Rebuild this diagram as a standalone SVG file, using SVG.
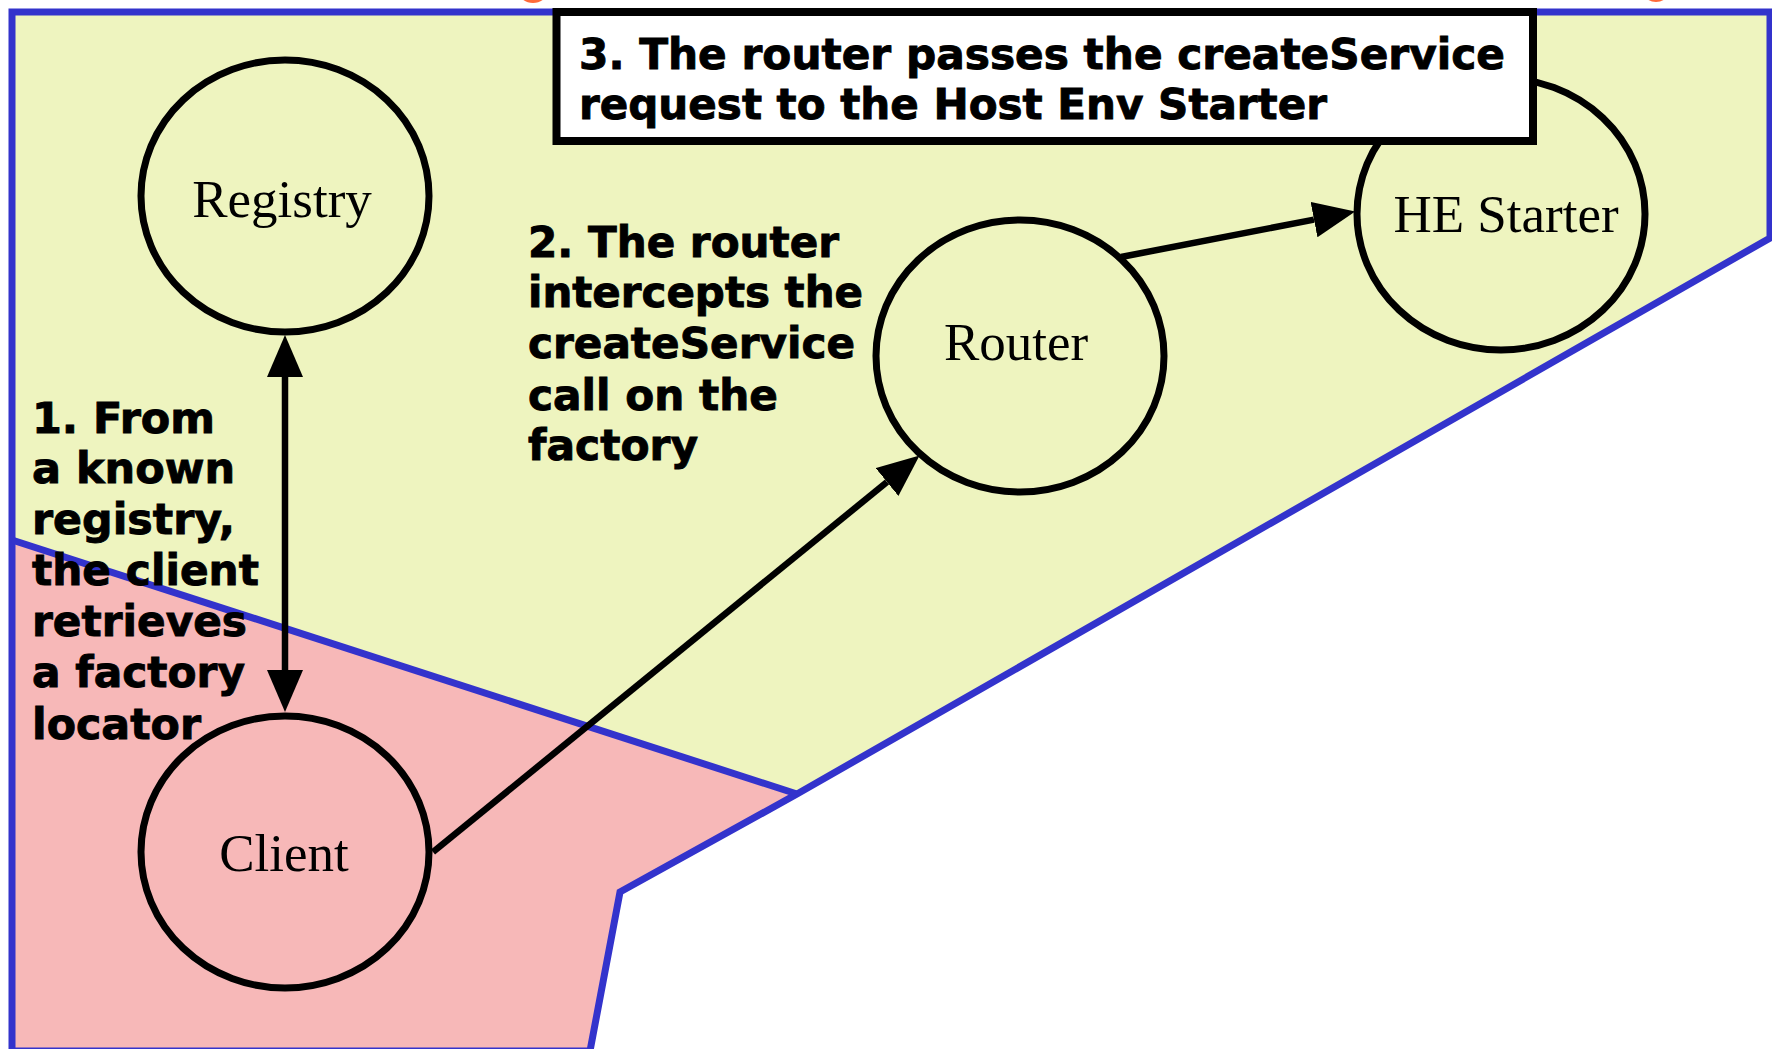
<svg xmlns="http://www.w3.org/2000/svg" width="1772" height="1049" viewBox="0 0 1772 1049">
<style>
.border{fill:none;stroke:#3333cc;stroke-width:7;stroke-linejoin:miter}
.node{fill:none;stroke:#000;stroke-width:7}
.lbl{font-family:"Liberation Serif","Times New Roman",serif;font-size:53px;fill:#000;text-anchor:middle}
.note{font-family:"DejaVu Sans",Verdana,sans-serif;font-weight:bold;font-size:43px;fill:#000;stroke:#000;stroke-width:0.9}
.conn{fill:none;stroke:#000;stroke-width:6.5}
</style>
<defs>
<marker id="ah" viewBox="0 -18 42 36" refX="0" refY="0" markerWidth="42" markerHeight="36" markerUnits="userSpaceOnUse" orient="auto-start-reverse">
<path d="M0,-18 L42,0 L0,18 z" fill="#000"/>
</marker>
</defs>
<rect x="0" y="0" width="1772" height="1049" fill="#ffffff"/>
<g id="regions">
<ellipse cx="533" cy="-8" rx="14" ry="11" fill="#ff6a3a"/>
<ellipse cx="1656" cy="-9" rx="13" ry="11" fill="#ff6a3a"/>
<polygon points="12,12 1770,12 1770,238 797,794 12,540" fill="#eef4bf"/>
<polygon points="12,540 797,794 620,892 590,1051 12,1051" fill="#f7b8b8"/>
<path class="border" d="M12,12 L1770,12 L1770,238 L797,794 L620,892 L590,1051 L12,1051 Z"/>
<line class="border" x1="12" y1="540" x2="797" y2="794"/>
</g>
<g id="connectors">
<line class="conn" x1="285" y1="377" x2="285" y2="670" marker-start="url(#ah)" marker-end="url(#ah)"/>
<line class="conn" x1="433" y1="852" x2="887" y2="482" marker-end="url(#ah)"/>
<line class="conn" x1="1121" y1="257" x2="1314" y2="219.6" marker-end="url(#ah)"/>
</g>
<g id="registry">
<ellipse class="node" cx="285" cy="196" rx="144" ry="136"/>
<text class="lbl" x="282" y="217">Registry</text>
</g>
<g id="router">
<ellipse class="node" cx="1020" cy="356" rx="144" ry="136"/>
<text class="lbl" x="1016" y="360">Router</text>
</g>
<g id="he-starter">
<ellipse class="node" cx="1501" cy="214" rx="144" ry="136"/>
<text class="lbl" x="1506" y="232">HE Starter</text>
</g>
<g id="client">
<ellipse class="node" cx="285" cy="852" rx="144" ry="136"/>
<text class="lbl" x="284" y="871">Client</text>
</g>
<g id="note3">
<rect x="556.5" y="12" width="976.5" height="129" fill="#ffffff" stroke="#000" stroke-width="8"/>
<text class="note" x="579" y="69" textLength="926" lengthAdjust="spacingAndGlyphs">3. The router passes the createService</text>
<text class="note" x="579" y="119" textLength="748" lengthAdjust="spacingAndGlyphs">request to the Host Env Starter</text>
</g>
<g id="note1">
<text class="note" x="32" y="433" textLength="183" lengthAdjust="spacingAndGlyphs">1. From</text>
<text class="note" x="32" y="483" textLength="203" lengthAdjust="spacingAndGlyphs">a known</text>
<text class="note" x="32" y="534" textLength="203" lengthAdjust="spacingAndGlyphs">registry,</text>
<text class="note" x="32" y="585" textLength="227" lengthAdjust="spacingAndGlyphs">the client</text>
<text class="note" x="32" y="636" textLength="215" lengthAdjust="spacingAndGlyphs">retrieves</text>
<text class="note" x="32" y="687" textLength="213" lengthAdjust="spacingAndGlyphs">a factory</text>
<text class="note" x="32" y="739" textLength="169" lengthAdjust="spacingAndGlyphs">locator</text>
</g>
<g id="note2">
<text class="note" x="528" y="257" textLength="311" lengthAdjust="spacingAndGlyphs">2. The router</text>
<text class="note" x="528" y="307" textLength="335" lengthAdjust="spacingAndGlyphs">intercepts the</text>
<text class="note" x="528" y="358" textLength="327" lengthAdjust="spacingAndGlyphs">createService</text>
<text class="note" x="528" y="410" textLength="250" lengthAdjust="spacingAndGlyphs">call on the</text>
<text class="note" x="528" y="460" textLength="170" lengthAdjust="spacingAndGlyphs">factory</text>
</g>
</svg>
